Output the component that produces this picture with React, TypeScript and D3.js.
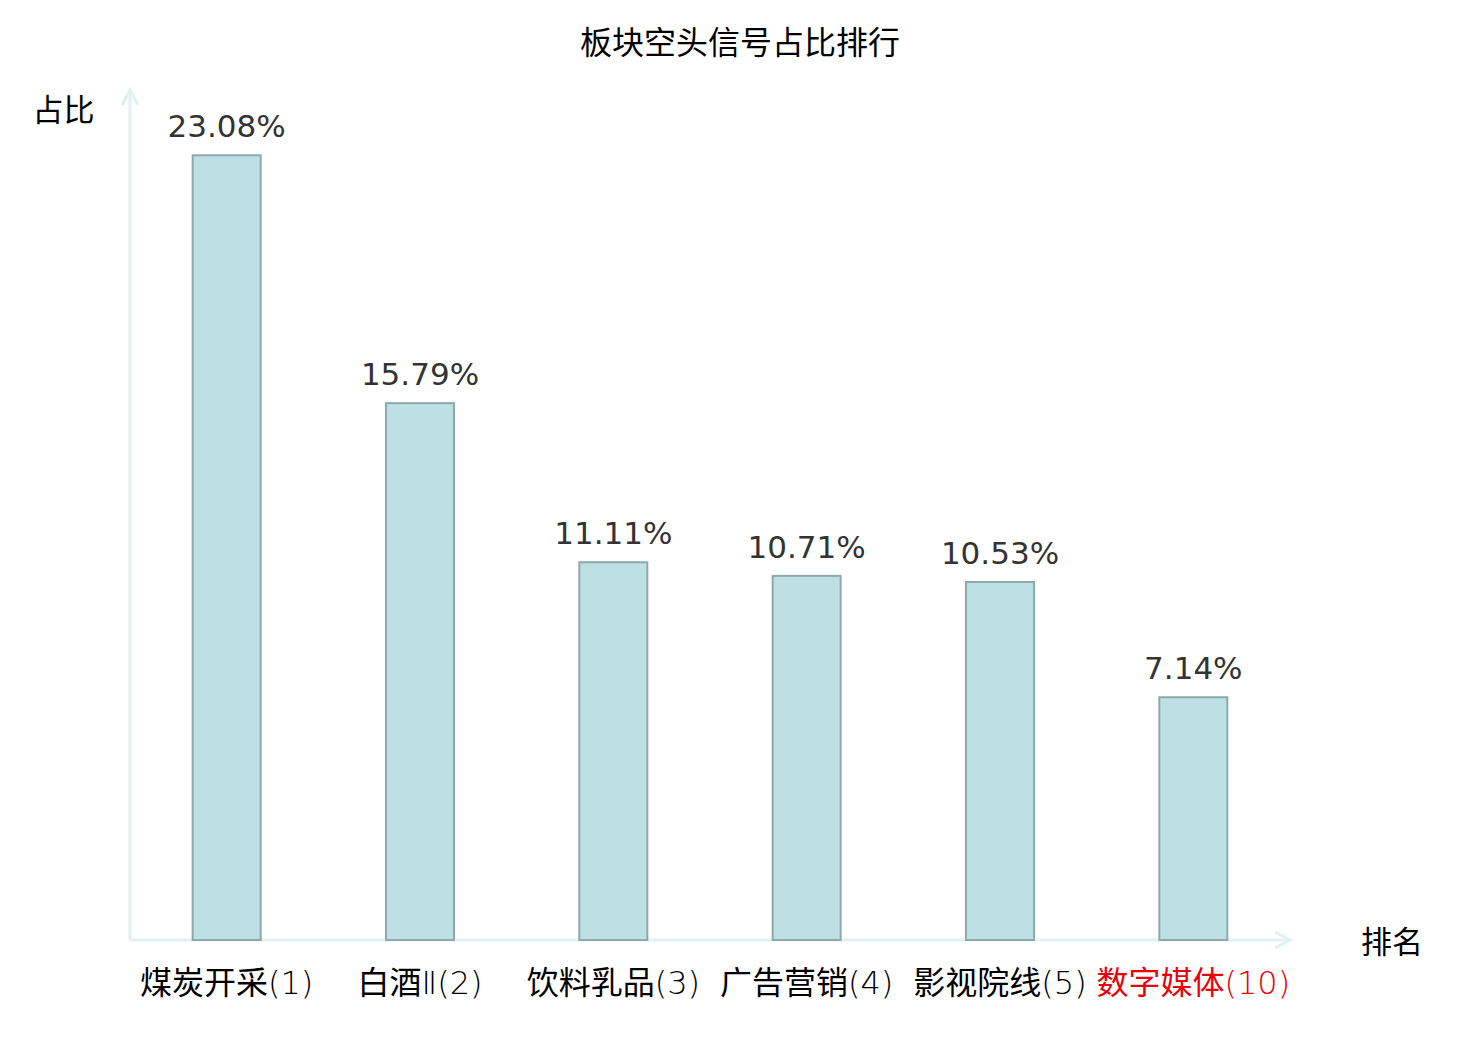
import React from "react";
import * as d3 from "d3";

const categoryNames = ["煤炭开采", "白酒", "饮料乳品", "广告营销", "影视院线", "数字媒体"];
const categoryRanks = ["(1)", "Ⅱ(2)", "(3)", "(4)", "(5)", "(10)"];
const values = [23.08, 15.79, 11.11, 10.71, 10.53, 7.14];
const highlight = [false, false, false, false, false, true];
const title = "板块空头信号占比排行";
const yName = "占比";
const xName = "排名";

const W = 1480;
const H = 1040;
const x0 = 130, x1 = 1290, yBottom = 940, yTop = 90;
const FONT = "'DejaVu Sans', 'Noto Sans CJK SC', sans-serif";
const CJK = "'Noto Sans CJK SC', 'DejaVu Sans', sans-serif";
const AXIS = "#dff2ef";

export default function App() {
  const keys = categoryNames.map((n, i) => n + categoryRanks[i]);
  const x = d3.scaleBand<string>().domain(keys).range([x0, x1]).paddingInner(0).paddingOuter(0);
  const y = d3.scaleLinear().domain([0, 25]).range([yBottom, yTop]);
  const bw = 68;
  return (
    <svg width={W} height={H} style={{ position: "absolute", left: 0, top: 0, background: "#fff" }} fontFamily={FONT}>
      <text x={740} y={54} textAnchor="middle" fontSize={32} fill="#000" fontFamily={CJK}>{title}</text>
      <text x={63.5} y={121} textAnchor="middle" fontSize={31} fill="#000" fontFamily={CJK}>{yName}</text>
      <text x={1392} y={953} textAnchor="middle" fontSize={31} fill="#000" fontFamily={CJK}>{xName}</text>
      {/* axes */}
      <line x1={x0} y1={yBottom} x2={x0} y2={yTop} stroke={AXIS} strokeWidth={3} />
      <polyline points={`${x0 - 8},${yTop + 15} ${x0},${yTop} ${x0 + 8},${yTop + 15}`} fill="none" stroke={AXIS} strokeWidth={3} />
      <line x1={x0} y1={yBottom} x2={x1} y2={yBottom} stroke={AXIS} strokeWidth={3} />
      <polyline points={`${x1 - 15},${yBottom - 8} ${x1},${yBottom} ${x1 - 15},${yBottom + 8}`} fill="none" stroke={AXIS} strokeWidth={3} />
      {keys.map((k, i) => {
        const cx = (x(k) as number) + x.bandwidth() / 2;
        const top = y(values[i]);
        const col = highlight[i] ? "#e8000b" : "#000";
        return (
          <g key={k}>
            <rect x={cx - bw / 2} y={top} width={bw} height={yBottom - top} fill="#bce0e3" stroke="#8fa9aa" strokeWidth={2} />
            <text x={cx} y={top - 18} textAnchor="middle" fontSize={31} fill="#333">{values[i].toFixed(2)}%</text>
            <text x={cx} y={994} textAnchor="middle" fontSize={32} fill={col}>
              <tspan fontFamily={CJK}>{categoryNames[i]}</tspan>
              <tspan fontFamily="'DejaVu Sans', sans-serif" fontWeight={200}>{categoryRanks[i]}</tspan>
            </text>
          </g>
        );
      })}
    </svg>
  );
}
